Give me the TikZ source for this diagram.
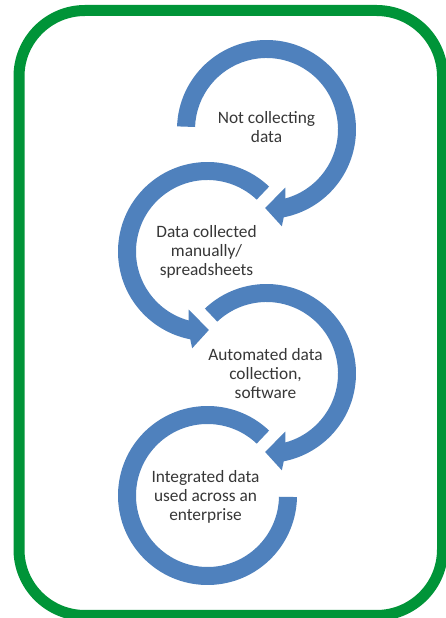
\documentclass[tikz,border=0pt]{standalone}
\usepackage{fontspec}
\setmainfont{Carlito}
\definecolor{bandblue}{RGB}{79,129,189}
\definecolor{frame}{RGB}{0,148,56}
\definecolor{txtgray}{RGB}{55,55,55}
\begin{document}
\begin{tikzpicture}[x=0.75pt,y=0.75pt,
  band/.style={fill=bandblue},
  txt/.style={text=txtgray, font=\fontsize{13}{14.2}\selectfont, align=center, inner sep=0pt}]
\useasboundingbox (0,0) rectangle (446,618);
\fill[white] (0,0) rectangle (446,618);
\draw[line width=8.25pt, draw=frame, rounded corners=49.5pt] (19,2.5) rectangle (442.5,607.5);

\coordinate (c1) at (266.5,488.5);
\coordinate (c2) at (207.5,366.5);
\coordinate (c3) at (266.5,244.5);
\coordinate (c4) at (207.5,122.5);

% arc 1 (clockwise)
\fill[band] ([shift={(c1)}]178:89.5) arc[start angle=178, end angle=-78.9, radius=89.5]
  -- ([shift={(c1)}]-81:98) -- ([shift={(c1)}]-91:78.5) -- ([shift={(c1)}]-72:61)
  -- ([shift={(c1)}]-74.6:71.5) arc[start angle=-74.6, end angle=178, radius=71.5] -- cycle;
% arc 2 (counter-clockwise)
\fill[band] ([shift={(c2)}]46.5:89.5) arc[start angle=46.5, end angle=258.9, radius=89.5]
  -- ([shift={(c2)}]261:98) -- ([shift={(c2)}]271:78.5) -- ([shift={(c2)}]252:61)
  -- ([shift={(c2)}]254.6:71.5) arc[start angle=254.6, end angle=46.5, radius=71.5] -- cycle;
% arc 3 (clockwise)
\fill[band] ([shift={(c3)}]133.5:89.5) arc[start angle=133.5, end angle=-78.9, radius=89.5]
  -- ([shift={(c3)}]-81:98) -- ([shift={(c3)}]-91:78.5) -- ([shift={(c3)}]-72:61)
  -- ([shift={(c3)}]-74.6:71.5) arc[start angle=-74.6, end angle=133.5, radius=71.5] -- cycle;
% arc 4 (counter-clockwise, no head)
\fill[band] ([shift={(c4)}]46.5:89.5) arc[start angle=46.5, end angle=359, radius=89.5]
  -- ([shift={(c4)}]359:71.5) arc[start angle=359, end angle=46.5, radius=71.5] -- cycle;

\node[txt] (t1) at (266.5,490.5) {Not collecting\\data};
\node[txt] (t2) at (206.5,366.5) {Data collected\\manually/\\spreadsheets};
\node[txt] (t3) at (265.5,244.5) {Automated data\\collection,\\software};
\node[txt] (t4) at (205.5,121.5) {Integrated data\\used across an\\enterprise};
\end{tikzpicture}
\end{document}
